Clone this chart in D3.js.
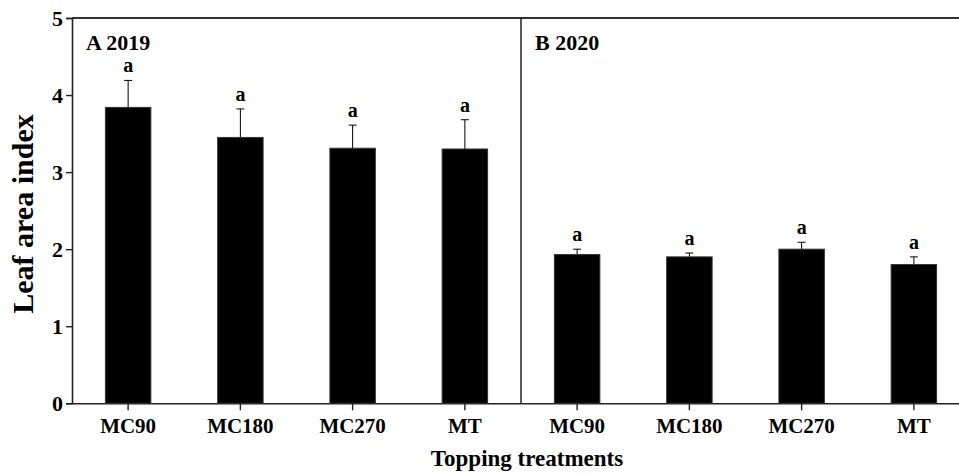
<!DOCTYPE html>
<html>
<head>
<meta charset="utf-8">
<script src="https://cdn.jsdelivr.net/npm/d3@7"></script>
<style>
  html, body { margin: 0; padding: 0; background: #fff; }
  svg { display: block; }
  text { font-family: "Liberation Serif", "Times New Roman", serif; font-weight: bold; fill: #000; }
</style>
</head>
<body>
<svg id="chart" width="959" height="475"></svg>
<script>
// Leaf area index by topping treatment, two seasons
const treatments = ["MC90", "MC180", "MC270", "MT"];
const panels = ["A 2019", "B 2020"];
const lai2019 = [3.84, 3.45, 3.31, 3.30];
const se2019 = [0.35, 0.37, 0.30, 0.38];
const lai2020 = [1.93, 1.90, 2.00, 1.80];
const se2020 = [0.07, 0.05, 0.09, 0.10];
const letters2019 = ["a", "a", "a", "a"];
const letters2020 = ["a", "a", "a", "a"];
const yTicks = [0, 1, 2, 3, 4, 5];

const panelData = [
  { label: panels[0], values: lai2019, se: se2019, letters: letters2019 },
  { label: panels[1], values: lai2020, se: se2020, letters: letters2020 }
];

const svg = d3.select("#chart");
const plotLeft = 72, plotTop = 18, plotBottom = 403.3;
const panelW = 449;

const y = d3.scaleLinear().domain([0, 5]).range([plotBottom, plotTop]);

// y axis
const yAxis = svg.append("g")
  .attr("transform", `translate(${plotLeft},0)`)
  .call(d3.axisLeft(y).tickValues(yTicks).tickSize(6).tickPadding(3).tickFormat(d3.format("d")));
yAxis.select(".domain").attr("stroke", "#222").attr("stroke-width", 1.6);
yAxis.selectAll(".tick line").attr("stroke", "#222").attr("stroke-width", 1.4);
yAxis.selectAll("text").style("font-size", "22px").attr("font-family", null).attr("dy", "0.34em");

// top frame line
svg.append("line")
  .attr("x1", plotLeft).attr("x2", plotLeft + 2 * panelW)
  .attr("y1", y(5)).attr("y2", y(5))
  .attr("stroke", "#333").attr("stroke-width", 2);

panelData.forEach((p, i) => {
  const x0 = plotLeft + i * panelW;
  const x = d3.scaleBand().domain(treatments)
    .range([x0, x0 + panelW])
    .paddingInner(0.595).paddingOuter(0.2975);

  const g = svg.append("g");

  // bottom axis for this panel
  const xAxis = g.append("g")
    .attr("transform", `translate(0,${plotBottom})`)
    .call(d3.axisBottom(x).tickSize(7).tickPadding(8).tickSizeOuter(0));
  xAxis.select(".domain").attr("stroke", "#222").attr("stroke-width", 1.6);
  xAxis.selectAll(".tick line").attr("stroke", "#222").attr("stroke-width", 1.4);
  xAxis.selectAll("text").style("font-size", "21px").attr("font-family", null);

  // error bars (upper)
  const eb = g.selectAll(".err").data(treatments).enter().append("g");
  eb.append("line")
    .attr("x1", d => x(d) + x.bandwidth() / 2)
    .attr("x2", d => x(d) + x.bandwidth() / 2)
    .attr("y1", (d, j) => y(p.values[j]))
    .attr("y2", (d, j) => y(p.values[j] + p.se[j]))
    .attr("stroke", "#000").attr("stroke-width", 1);
  eb.append("line")
    .attr("x1", d => x(d) + x.bandwidth() / 2 - 4)
    .attr("x2", d => x(d) + x.bandwidth() / 2 + 4)
    .attr("y1", (d, j) => y(p.values[j] + p.se[j]))
    .attr("y2", (d, j) => y(p.values[j] + p.se[j]))
    .attr("stroke", "#000").attr("stroke-width", 1);

  // bars
  g.selectAll(".bar").data(treatments).enter().append("rect")
    .attr("x", d => x(d))
    .attr("width", x.bandwidth())
    .attr("y", (d, j) => y(p.values[j]))
    .attr("height", (d, j) => y(0) - y(p.values[j]))
    .attr("fill", "#000")
    .attr("stroke", "#333").attr("stroke-width", 1);

  // significance letters
  g.selectAll(".letter").data(treatments).enter().append("text")
    .attr("x", d => x(d) + x.bandwidth() / 2)
    .attr("y", (d, j) => y(p.values[j] + p.se[j]) - 8)
    .attr("text-anchor", "middle")
    .style("font-size", "20px")
    .text((d, j) => p.letters[j]);

  // panel label
  g.append("text")
    .attr("x", x0 + 14)
    .attr("y", 49.5)
    .style("font-size", "22px")
    .text(p.label);

  // panel divider
  if (i > 0) {
    g.append("line")
      .attr("x1", x0).attr("x2", x0)
      .attr("y1", y(5)).attr("y2", y(0))
      .attr("stroke", "#222").attr("stroke-width", 1.5);
  }
});

// axis titles
svg.append("text")
  .attr("transform", `translate(33,214) rotate(-90)`)
  .attr("text-anchor", "middle")
  .style("font-size", "30px")
  .text("Leaf area index");

svg.append("text")
  .attr("x", 527)
  .attr("y", 466)
  .attr("text-anchor", "middle")
  .style("font-size", "23px")
  .text("Topping treatments");
</script>
</body>
</html>
